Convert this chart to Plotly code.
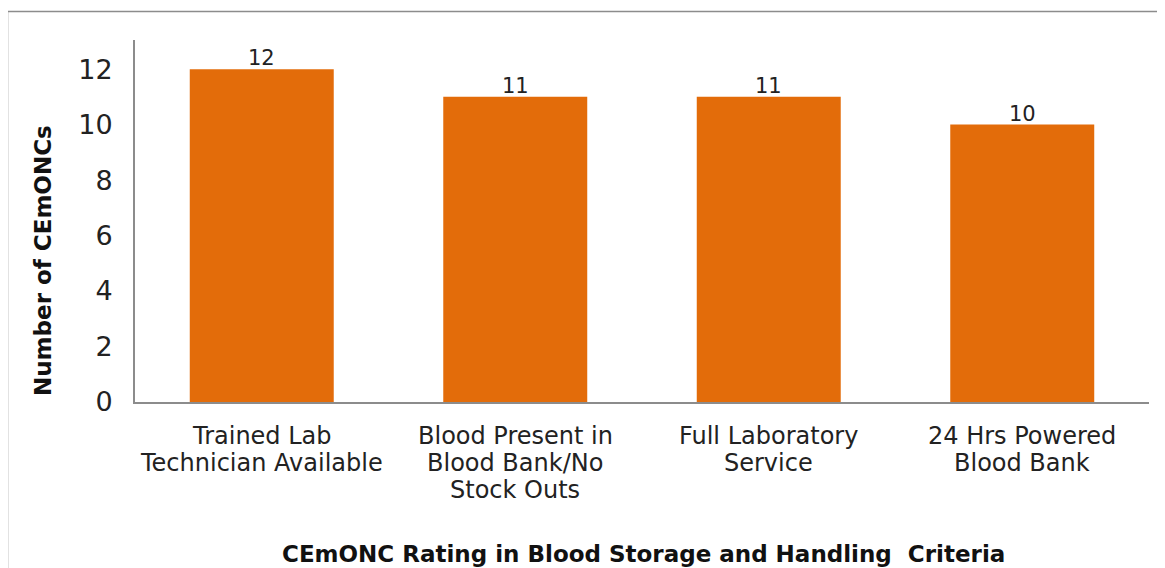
import plotly.graph_objects as go

categories = [
    "Trained Lab<br>Technician Available",
    "Blood Present in<br>Blood Bank/No<br>Stock Outs",
    "Full Laboratory<br>Service",
    "24 Hrs Powered<br>Blood Bank",
]
values = [12, 11, 11, 10]
y_ticks = [0, 2, 4, 6, 8, 10, 12]

bar_color = "#E36C0A"
text_color = "#222222"
font_family = "DejaVu Sans, Verdana, sans-serif"

# page body has an 8px margin, so work in figure pixels (screen - 8)
W, H = 1157, 560
L, R, T, B = 127, 16, 32, 166
pw, ph = W - L - R, H - T - B


def px_x(p):
    return (p - L) / pw


def px_y(p):
    return (H - B - p) / ph


fig = go.Figure(
    go.Bar(
        x=categories,
        y=values,
        marker=dict(color=bar_color, line=dict(width=0)),
        cliponaxis=False,
        width=0.568,
    )
)

annotations = []
# value labels just above bars
for cat, v in zip(categories, values):
    annotations.append(dict(
        text=str(v), xref="x", yref="y", x=cat, y=v,
        showarrow=False, xanchor="center", yanchor="bottom", yshift=-3,
        font=dict(size=21, color=text_color, family=font_family),
    ))

line_gap = 27
first_line_y = 428
for cat in categories:
    for i, line in enumerate(cat.split("<br>")):
        annotations.append(dict(
            text=line, xref="x", yref="paper",
            x=cat, y=px_y(first_line_y + i * line_gap),
            showarrow=False, xanchor="center", yanchor="middle",
            font=dict(size=24, color=text_color, family=font_family),
        ))

annotations += [
    dict(
        text="<b>Number of CEmONCs</b>",
        xref="paper", yref="paper",
        x=px_x(35), y=px_y(253),
        textangle=-90, showarrow=False,
        font=dict(size=23, color="#111111", family=font_family),
        xanchor="center", yanchor="middle",
    ),
    dict(
        text="<b>CEmONC Rating in Blood Storage and Handling  Criteria</b>",
        xref="paper", yref="paper",
        x=px_x(635), y=px_y(546),
        showarrow=False,
        font=dict(size=23, color="#111111", family=font_family),
        xanchor="center", yanchor="middle",
    ),
]

fig.update_layout(
    width=W,
    height=H,
    margin=dict(l=L, r=R, t=T, b=B, pad=0),
    paper_bgcolor="white",
    plot_bgcolor="white",
    showlegend=False,
    font=dict(family=font_family, color=text_color),
    xaxis=dict(
        showline=True,
        linecolor="#8c8c8c",
        linewidth=2,
        ticks="",
        showgrid=False,
        showticklabels=False,
    ),
    yaxis=dict(
        range=[0, 13.05],
        tickvals=y_ticks,
        showline=True,
        linecolor="#8c8c8c",
        linewidth=2,
        ticks="",
        showgrid=False,
        zeroline=False,
        tickfont=dict(size=27, color=text_color),
        ticklabelstandoff=15,
    ),
    annotations=annotations,
    shapes=[
        dict(type="line", xref="paper", yref="paper",
             x0=px_x(-0.5), x1=px_x(-0.5), y0=px_y(3.5), y1=px_y(580),
             line=dict(color="#8c8c8c", width=1.5)),
        dict(type="line", xref="paper", yref="paper",
             x0=px_x(-0.5), x1=px_x(1175), y0=px_y(3.5), y1=px_y(3.5),
             line=dict(color="#8c8c8c", width=1.5)),
    ],
)

fig.write_html("out.html")
